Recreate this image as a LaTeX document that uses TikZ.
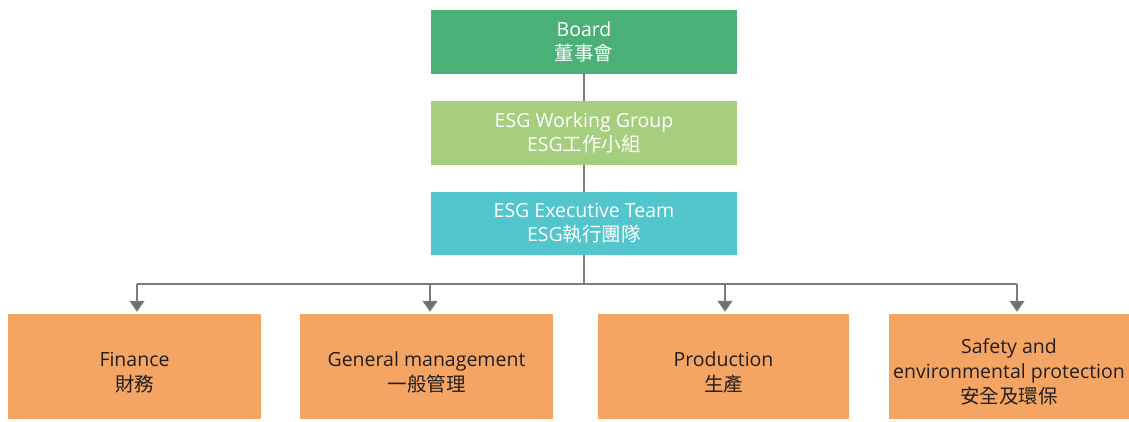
\documentclass[tikz,border=0pt]{standalone}
\usepackage{fontspec}
\setmainfont{Open Sans}
\newfontfamily\cjk{Noto Sans CJK TC}
\usetikzlibrary{arrows.meta,calc}
\definecolor{boardgreen}{HTML}{4AB077}
\definecolor{wggreen}{HTML}{A5CE7E}
\definecolor{execcyan}{HTML}{52C5CD}
\definecolor{deptorange}{HTML}{F4A563}
\definecolor{linegray}{HTML}{7A7A7A}
\definecolor{tipgray}{HTML}{6D6E71}
\definecolor{darktext}{HTML}{231F20}
\tikzset{
  topbox/.style={minimum width=306pt, minimum height=64pt, inner sep=0pt, align=center, text=white, font=\fontsize{19.5}{24}\selectfont},
  deptbox/.style={fill=deptorange, minimum height=105pt, inner sep=0pt, align=center, text=darktext, font=\fontsize{19.5}{25}\selectfont},
  conn/.style={draw=linegray, line width=1.4pt},
  arr/.style={conn, -{Triangle[width=15pt,length=11pt,fill=tipgray]}, shorten >=2pt},
}
\begin{document}
\begin{tikzpicture}[x=1pt,y=1pt]
\useasboundingbox (0,0) rectangle (1129,421);
\node[topbox, fill=boardgreen] (board) at (584,379) {Board\\{\cjk 董事會}};
\node[topbox, fill=wggreen] (wg) at (584,288) {ESG Working Group\\ESG{\cjk 工作小組}};
\node[topbox, fill=execcyan, minimum height=63pt] (exec) at (584,197.5) {ESG Executive Team\\ESG{\cjk 執行團隊}};
\node[deptbox, minimum width=253pt] (fin) at (134.5,54.5) {\rule{0pt}{26pt}Finance\\{\cjk 財務}};
\node[deptbox, minimum width=253pt] (gen) at (426.5,54.5) {\rule{0pt}{26pt}General management\\{\cjk 一般管理}};
\node[deptbox, minimum width=251pt] (prod) at (723.5,54.5) {\rule{0pt}{26pt}Production\\{\cjk 生產}};
\node[deptbox, minimum width=240pt] (safe) at (1009,54.5) {\rule{0pt}{26pt}Safety and\\environmental protection\\{\cjk 安全及環保}};
\coordinate (junc) at (584,137);
\coordinate (finTop) at (137,137);
\coordinate (genTop) at (430,137);
\coordinate (prodTop) at (725,137);
\coordinate (safeTop) at (1017,137);
\draw[conn] (board.south) -- (wg.north);
\draw[conn] (wg.south) -- (exec.north);
\draw[conn] (exec.south) -- (junc);
\draw[conn] (finTop) -- (safeTop);
\draw[arr] (finTop) -- (finTop |- fin.north);
\draw[arr] (genTop) -- (genTop |- gen.north);
\draw[arr] (prodTop) -- (prodTop |- prod.north);
\draw[arr] (safeTop) -- (safeTop |- safe.north);
\end{tikzpicture}
\end{document}
